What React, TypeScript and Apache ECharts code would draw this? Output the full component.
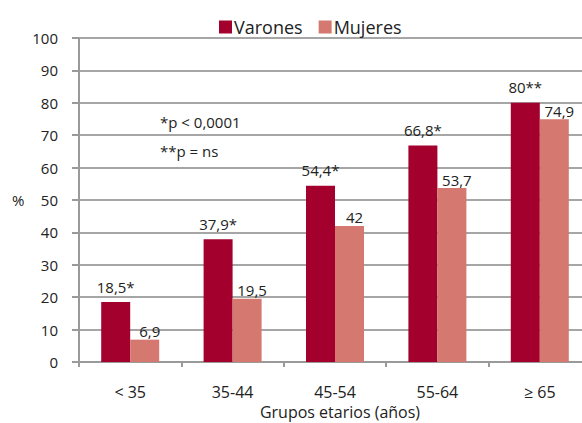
import React, { useEffect, useRef } from "react";
import * as echarts from "echarts";

const categories = ["< 35", "35-44", "45-54", "55-64", "\u2265 65"];
const varones = [18.5, 37.9, 54.4, 66.8, 80];
const mujeres = [6.9, 19.5, 42, 53.7, 74.9];
const varonesMarks = ["*", "*", "*", "*", "**"];
const notes = ["*p < 0,0001", "**p = ns"];
const yTicks = { min: 0, max: 100, interval: 10 };

const FONT = "'Open Sans', 'Noto Sans', sans-serif";
const fmt = (v: number) => String(v).replace(".", ",");

export default function App() {
  const ref = useRef<HTMLDivElement>(null);
  useEffect(() => {
    if (!ref.current) return;
    const chart = echarts.init(ref.current, undefined, { renderer: "svg" });
    chart.setOption({
      animation: false,
      backgroundColor: "#ffffff",
      textStyle: { fontFamily: FONT },
      legend: {
        left: 214,
        top: 13,
        itemWidth: 13,
        itemHeight: 13,
        itemGap: 16,
        icon: "rect",
        textStyle: { fontSize: 18, color: "#222", fontFamily: FONT, padding: [0, 0, 0, -3] },
        data: ["Varones", "Mujeres"],
      },
      grid: { left: 79, top: 38, width: 512, height: 324, containLabel: false },
      xAxis: {
        type: "category",
        data: categories,
        axisLine: { lineStyle: { color: "#9a9a9a", width: 2 } },
        axisTick: { show: true, length: 5, lineStyle: { color: "#9a9a9a", width: 2 } },
        axisLabel: { fontSize: 16, color: "#222", margin: 22, fontFamily: FONT },
      },
      yAxis: {
        type: "value",
        min: yTicks.min,
        max: yTicks.max,
        interval: yTicks.interval,
        axisLine: { show: true, lineStyle: { color: "#9a9a9a", width: 2 } },
        axisTick: { show: true, length: 7, lineStyle: { color: "#9a9a9a", width: 2 } },
        splitLine: { lineStyle: { color: "#a6a6a6", width: 2 } },
        axisLabel: { fontSize: 15, color: "#222", margin: 21, fontFamily: FONT },
      },
      series: [
        {
          name: "Varones",
          type: "bar",
          data: varones,
          barWidth: 29,
          barGap: "0%",
          itemStyle: { color: "#a3002d" },
          label: {
            show: true,
            position: "top",
            distance: 8,
            fontSize: 15,
            color: "#222",
            fontFamily: FONT,
            formatter: (p: any) => fmt(p.value) + varonesMarks[p.dataIndex],
          },
        },
        {
          name: "Mujeres",
          type: "bar",
          data: mujeres,
          barWidth: 29,
          itemStyle: { color: "#d47870" },
          label: {
            show: true,
            position: "top",
            distance: 1,
            offset: [5, 0],
            fontSize: 15,
            color: "#222",
            fontFamily: FONT,
            formatter: (p: any) => fmt(p.value),
          },
        },
      ],
      graphic: [
        {
          type: "text",
          left: 160,
          top: 114,
          style: { text: notes[0], fontSize: 15, fill: "#222", fontFamily: FONT },
        },
        {
          type: "text",
          left: 160,
          top: 143,
          style: { text: notes[1], fontSize: 15, fill: "#222", fontFamily: FONT },
        },
        {
          type: "text",
          left: 12,
          top: 192,
          style: { text: "%", fontSize: 15, fill: "#222", fontFamily: FONT },
        },
        {
          type: "text",
          x: 340,
          y: 412,
          style: {
            text: "Grupos etarios (años)",
            fontSize: 16,
            fill: "#222",
            fontFamily: FONT,
            align: "center",
            verticalAlign: "middle",
          },
        },
      ],
    });
    return () => chart.dispose();
  }, []);
  return (
    <div
      style={{
        position: "absolute",
        left: 0,
        top: 0,
        width: 582,
        height: 423,
        overflow: "hidden",
        background: "#fff",
      }}
    >
      <div ref={ref} style={{ width: 600, height: 423 }} />
    </div>
  );
}
